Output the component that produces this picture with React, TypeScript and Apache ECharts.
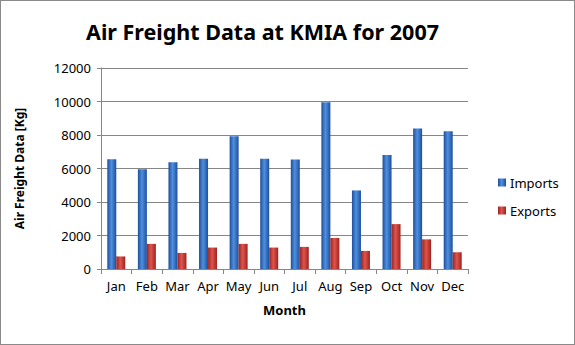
import React, { useEffect, useRef } from "react";
import * as echarts from "echarts";

const months = ["Jan", "Feb", "Mar", "Apr", "May", "Jun", "Jul", "Aug", "Sep", "Oct", "Nov", "Dec"];
const imports = [6550, 5950, 6370, 6580, 7920, 6580, 6540, 9950, 4690, 6810, 8390, 8220];
const exports = [750, 1500, 960, 1280, 1500, 1280, 1320, 1850, 1080, 2680, 1770, 1000];

const FONT = "'Noto Sans', 'Open Sans', sans-serif";

function grad(dark: string, light: string) {
  return new echarts.graphic.LinearGradient(0, 0, 1, 0, [
    { offset: 0, color: dark },
    { offset: 0.45, color: light },
    { offset: 1, color: dark },
  ]);
}

export default function App() {
  const ref = useRef<HTMLDivElement>(null);
  useEffect(() => {
    document.body.style.margin = "0";
    const chart = echarts.init(ref.current!, undefined, { renderer: "svg" });
    chart.setOption({
      animation: false,
      backgroundColor: "#ffffff",
      title: {
        text: "Air Freight Data at KMIA for 2007",
        left: 80,
        top: 14,
        textStyle: { fontFamily: FONT, fontSize: 21.5, fontWeight: "bold", color: "#000" },
      },
      legend: {
        orient: "vertical",
        left: 492,
        top: 170,
        itemWidth: 8,
        itemHeight: 8,
        itemGap: 15,
        icon: "rect",
        textStyle: { fontFamily: FONT, fontSize: 13, color: "#000", padding: [0, 0, 0, -1] },
        data: ["Imports", "Exports"],
      },
      grid: { left: 100, right: 106, top: 67, bottom: 75 },
      xAxis: {
        type: "category",
        data: months,
        name: "Month",
        nameLocation: "middle",
        nameGap: 34,
        nameTextStyle: { fontFamily: FONT, fontSize: 13, fontWeight: "bold", color: "#000" },
        axisLine: { lineStyle: { color: "#868686" } },
        axisTick: { show: true, length: 5, lineStyle: { color: "#868686" } },
        axisLabel: { interval: 0, fontFamily: FONT, fontSize: 13, color: "#000", margin: 10 },
      },
      yAxis: {
        type: "value",
        min: 0,
        max: 12000,
        interval: 2000,
        name: "Air Freight Data [Kg]",
        nameLocation: "middle",
        nameGap: 76,
        nameTextStyle: { fontFamily: FONT, fontSize: 12, fontWeight: "bold", color: "#000" },
        axisLine: { show: true, lineStyle: { color: "#868686" } },
        axisTick: { show: true, length: 4, lineStyle: { color: "#868686" } },
        axisLabel: {
          fontFamily: FONT,
          fontSize: 13,
          color: "#000",
          margin: 10,
          formatter: (v: number) => String(v),
        },
        splitLine: { lineStyle: { color: "#868686" } },
      },
      series: [
        {
          name: "Imports",
          type: "bar",
          data: imports,
          barWidth: 9,
          barGap: "0%",
          itemStyle: { color: grad("#1d4f9c", "#4f8fdf") },
        },
        {
          name: "Exports",
          type: "bar",
          data: exports,
          barWidth: 9,
          itemStyle: { color: grad("#9c2420", "#e0544c") },
        },
      ],
    });
    return () => chart.dispose();
  }, []);
  return (
    <div
      ref={ref}
      style={{
        width: 575,
        height: 345,
        boxSizing: "border-box",
        border: "1px solid #8a8a8a",
      }}
    />
  );
}
